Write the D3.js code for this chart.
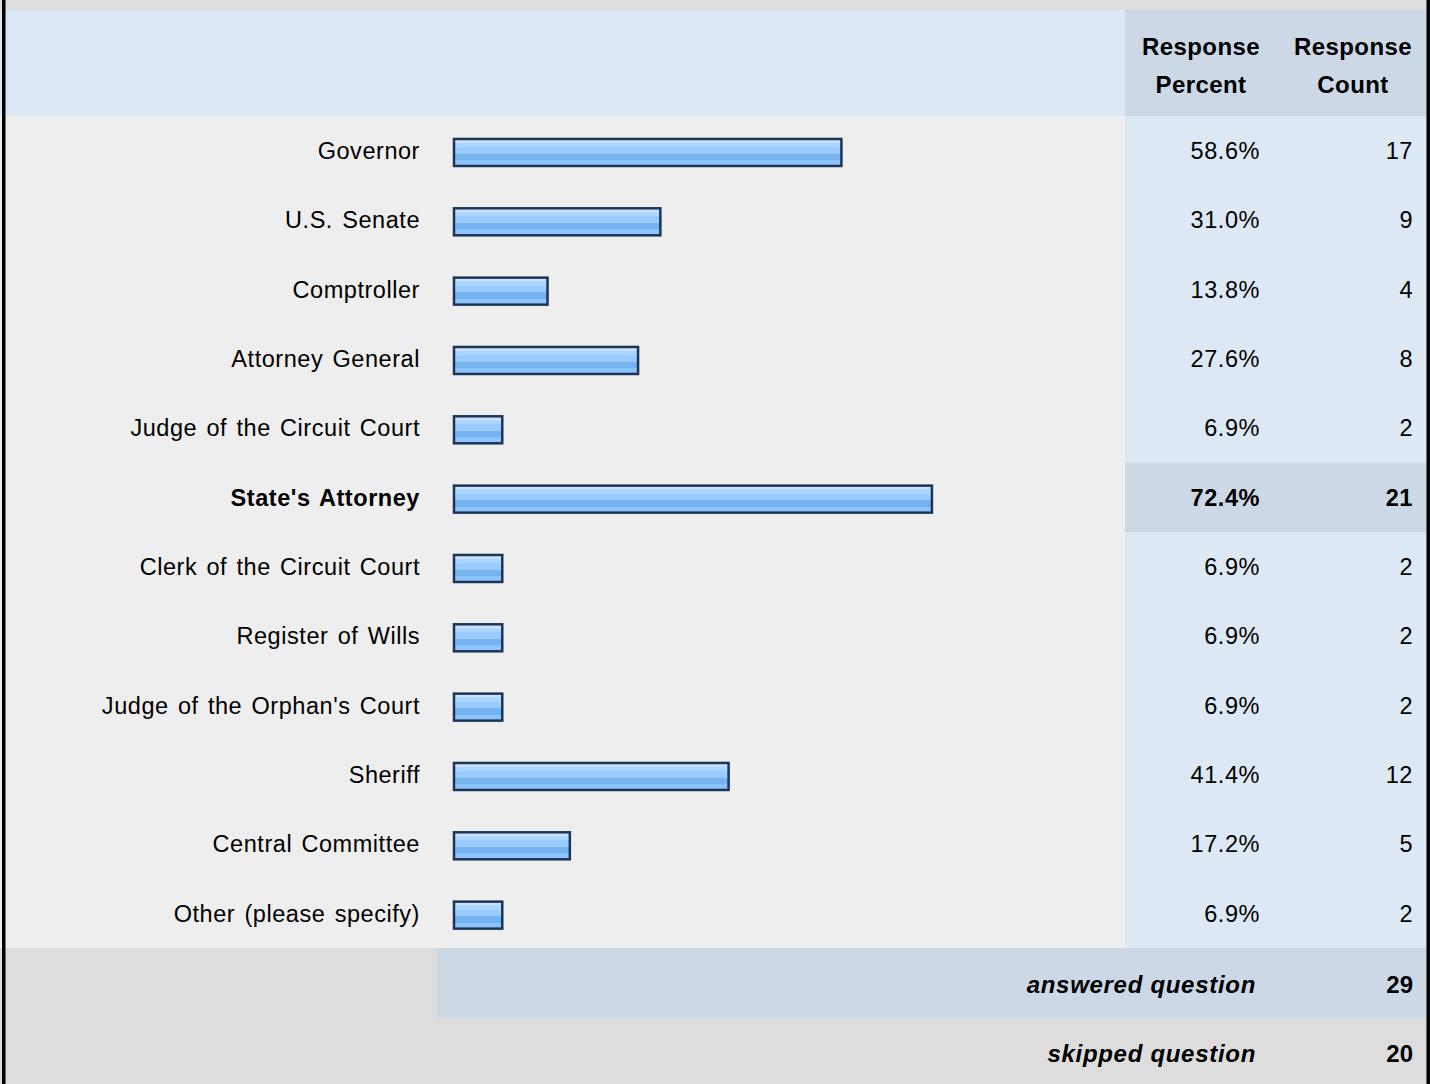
<!DOCTYPE html>
<html>
<head>
<meta charset="utf-8">
<script src="https://cdn.jsdelivr.net/npm/d3@7/dist/d3.min.js"></script>
<style>
  html, body { margin: 0; padding: 0; background: #ffffff; }
  svg { display: block; font-family: "Liberation Sans", Arial, sans-serif; }
</style>
</head>
<body>
<svg id="chart" width="1430" height="1084"></svg>
<script>
// Survey answers: one row per office
const categories = [
  "Governor", "U.S. Senate", "Comptroller", "Attorney General",
  "Judge of the Circuit Court", "State's Attorney", "Clerk of the Circuit Court",
  "Register of Wills", "Judge of the Orphan's Court", "Sheriff",
  "Central Committee", "Other (please specify)"
];
const percents = [58.6, 31.0, 13.8, 27.6, 6.9, 72.4, 6.9, 6.9, 6.9, 41.4, 17.2, 6.9];
const counts   = [17, 9, 4, 8, 2, 21, 2, 2, 2, 12, 5, 2];
const highlighted = ["State's Attorney"];
const headers = [["Response", "Percent"], ["Response", "Count"]];
const answeredQuestion = 29;
const skippedQuestion = 20;

const W = 1430, H = 1084;
const svg = d3.select("#chart");

const headerTop = 10, headerBottom = 116, rowsBottom = 948, answeredBottom = 1018;
const colSplit = 1125, pctRight = 1260, cntRight = 1413;
const fontSize = 23.5, spacing = 0.55;

const y = d3.scaleBand().domain(categories).range([headerBottom, rowsBottom]).padding(0);
const x = d3.scaleLinear().domain([0, 100]).range([5, 661]);
const barX = 453, barH = 27;

// Background panels
svg.append("rect").attr("x", 0).attr("y", 0).attr("width", W).attr("height", H).attr("fill", "#dddddd");
svg.append("rect").attr("x", 0).attr("y", headerTop).attr("width", W).attr("height", headerBottom - headerTop).attr("fill", "#dde8f5");
svg.append("rect").attr("x", colSplit).attr("y", headerTop).attr("width", W - colSplit).attr("height", headerBottom - headerTop).attr("fill", "#ccd8e6");
svg.append("rect").attr("x", 0).attr("y", headerBottom).attr("width", colSplit).attr("height", rowsBottom - headerBottom).attr("fill", "#eeeeee");
svg.append("rect").attr("x", colSplit).attr("y", headerBottom).attr("width", W - colSplit).attr("height", rowsBottom - headerBottom).attr("fill", "#dde8f5");
svg.append("rect").attr("x", 437).attr("y", rowsBottom).attr("width", W - 437).attr("height", answeredBottom - rowsBottom).attr("fill", "#ccd8e6");

// Striped bar fill
const defs = svg.append("defs");
const grad = defs.append("linearGradient").attr("id", "barFill")
  .attr("x1", 0).attr("y1", 0).attr("x2", 0).attr("y2", 1);
[
  [0.00, "#c8e3ff"], [0.14, "#c8e3ff"], [0.14, "#acd6ff"], [0.30, "#acd6ff"],
  [0.30, "#99ccff"], [0.55, "#99ccff"], [0.55, "#76b1f0"], [0.78, "#76b1f0"],
  [0.78, "#8cc4ff"], [1.00, "#8cc4ff"]
].forEach(([o, c]) => grad.append("stop").attr("offset", o).attr("stop-color", c));

// Rows
const rows = svg.append("g").selectAll("g").data(categories).join("g")
  .attr("transform", d => `translate(0,${y(d)})`);

rows.filter(d => highlighted.includes(d)).append("rect")
  .attr("x", colSplit).attr("y", 0).attr("width", W - colSplit).attr("height", y.bandwidth())
  .attr("fill", "#ccd8e6");

const bw = y.bandwidth();
function cellText(sel, xPos, fn) {
  sel.append("text")
    .attr("x", xPos).attr("y", bw / 2 + 8.3)
    .attr("text-anchor", "end").attr("font-size", fontSize)
    .attr("letter-spacing", spacing).attr("word-spacing", 2.2)
    .attr("font-weight", d => highlighted.includes(d) ? "bold" : "normal")
    .attr("fill", "#000").text(fn);
}

cellText(rows, 420, d => d);

rows.append("rect")
  .attr("x", barX + 1).attr("y", bw / 2 - barH / 2 + 1.8)
  .attr("width", (d, i) => x(percents[i]) - 2).attr("height", barH)
  .attr("fill", "url(#barFill)").attr("stroke", "#1c3557").attr("stroke-width", 2.5);

cellText(rows, pctRight, (d, i) => percents[i].toFixed(1) + "%");
cellText(rows, cntRight, (d, i) => counts[i]);

// Column headers
const headerCenters = [1201, 1353];
headers.forEach((lines, i) => {
  lines.forEach((t, j) => {
    svg.append("text").attr("x", headerCenters[i]).attr("y", 55 + j * 38)
      .attr("text-anchor", "middle").attr("font-size", 24).attr("font-weight", "bold")
      .attr("letter-spacing", 0.4)
      .attr("fill", "#000").text(t);
  });
});

// Summary rows
const summary = [["answered question", answeredQuestion, 993],
                 ["skipped question", skippedQuestion, 1062]];
summary.forEach(([label, val, base]) => {
  svg.append("text").attr("x", 1256).attr("y", base).attr("text-anchor", "end")
    .attr("font-size", 24).attr("font-weight", "bold").attr("font-style", "italic")
    .attr("letter-spacing", 0.7)
    .attr("fill", "#000").text(label);
  svg.append("text").attr("x", cntRight).attr("y", base).attr("text-anchor", "end")
    .attr("font-size", 24).attr("font-weight", "bold")
    .attr("fill", "#000").text(val);
});

// Outer frame edges
svg.append("rect").attr("x", 2).attr("y", 0).attr("width", 3.5).attr("height", H).attr("fill", "#000");
svg.append("rect").attr("x", 1426.5).attr("y", 0).attr("width", 3.5).attr("height", H).attr("fill", "#000");
</script>
</body>
</html>
